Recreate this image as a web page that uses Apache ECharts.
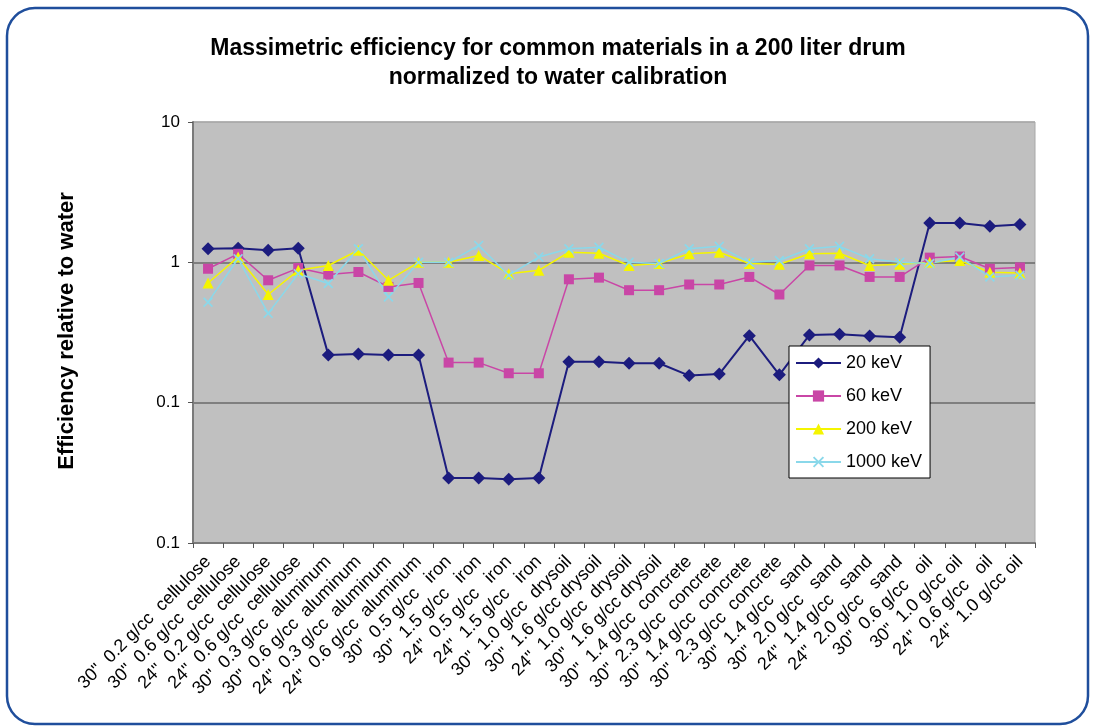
<!DOCTYPE html>
<html>
<head>
<meta charset="utf-8">
<script src="https://cdn.jsdelivr.net/npm/echarts@6/dist/echarts.min.js"></script>
<style>
html,body{margin:0;padding:0;background:#fff;}
#chart{width:1095px;height:727px;}
</style>
</head>
<body>
<div id="chart"></div>
<script>
const categories = [
  '30"  0.2 g/cc  cellulose', '30"  0.6 g/cc  cellulose', '24"  0.2 g/cc  cellulose', '24"  0.6 g/cc  cellulose',
  '30"  0.3 g/cc  aluminum', '30"  0.6 g/cc  aluminum', '24"  0.3 g/cc  aluminum', '24"  0.6 g/cc  aluminum',
  '30"  0.5 g/cc   iron', '30"  1.5 g/cc   iron', '24"  0.5 g/cc   iron', '24"  1.5 g/cc   iron',
  '30"  1.0 g/cc  drysoil', '30"  1.6 g/cc drysoil', '24"  1.0 g/cc  drysoil', '30"  1.6 g/cc drysoil',
  '30"  1.4 g/cc  concrete', '30"  2.3 g/cc  concrete', '30"  1.4 g/cc  concrete', '30"  2.3 g/cc  concrete',
  '30"  1.4 g/cc   sand', '30"  2.0 g/cc   sand', '24"  1.4 g/cc   sand', '24"  2.0 g/cc   sand',
  '30"  0.6 g/cc   oil', '30"  1.0 g/cc oil', '24"  0.6 g/cc   oil', '24"  1.0 g/cc oil'
];
const kev20 = [1.25, 1.26, 1.22, 1.26, 0.219, 0.222, 0.219, 0.219, 0.029, 0.029, 0.0285, 0.029,
  0.196, 0.196, 0.191, 0.191, 0.156, 0.16, 0.30, 0.158, 0.304, 0.307, 0.299, 0.292, 1.91, 1.91, 1.81, 1.86];
const kev60 = [0.90, 1.15, 0.745, 0.91, 0.818, 0.853, 0.668, 0.713, 0.193, 0.193, 0.162, 0.162,
  0.757, 0.778, 0.633, 0.633, 0.695, 0.695, 0.787, 0.59, 0.95, 0.95, 0.787, 0.787, 1.08, 1.10, 0.90, 0.92];
const kev200 = [0.713, 1.09, 0.59, 0.877, 0.95, 1.22, 0.745, 1.0, 1.0, 1.12, 0.83, 0.877,
  1.18, 1.16, 0.95, 0.98, 1.15, 1.18, 0.98, 0.97, 1.15, 1.16, 0.95, 0.97, 1.0, 1.03, 0.85, 0.84];
const kev1000 = [0.52, 1.06, 0.433, 0.83, 0.706, 1.25, 0.567, 1.0, 1.0, 1.32, 0.81, 1.09,
  1.25, 1.28, 1.0, 0.98, 1.25, 1.30, 1.0, 1.03, 1.25, 1.30, 1.06, 1.0, 0.98, 1.09, 0.787, 0.81];
const seriesNames = ['20 keV', '60 keV', '200 keV', '1000 keV'];
const yTickValues = [0.01, 0.1, 1, 10];
const yTickLabels = ['0.1', '0.1', '1', '10'];
const titleText = 'Massimetric efficiency for common materials in a 200 liter drum\nnormalized to water calibration';
const yAxisTitle = 'Efficiency relative to water';

const FONT = '"Liberation Sans", Arial, sans-serif';
const xSymbol = 'path://M0,1.2 L1.2,0 L5,3.8 L8.8,0 L10,1.2 L6.2,5 L10,8.8 L8.8,10 L5,6.2 L1.2,10 L0,8.8 L3.8,5 Z';

const chart = echarts.init(document.getElementById('chart'), null, {renderer: 'canvas'});
chart.setOption({
  animation: false,
  backgroundColor: '#ffffff',
  textStyle: {fontFamily: FONT},
  graphic: [{
    type: 'rect', z: -10,
    shape: {x: 7, y: 8, width: 1081, height: 716, r: 28},
    style: {fill: 'none', stroke: '#1f4e9c', lineWidth: 2.5}
  }, {
    type: 'text', x: 67, y: 331, rotation: Math.PI / 2,
    style: {text: yAxisTitle, font: 'bold 22px ' + FONT, fill: '#000',
      align: 'center', verticalAlign: 'middle', textAlign: 'center', textVerticalAlign: 'middle'}
  }],
  title: {
    text: titleText, left: 553, top: 29, textAlign: 'center',
    textStyle: {fontFamily: FONT, fontSize: 23, fontWeight: 'bold', color: '#000', lineHeight: 29}
  },
  grid: {left: 193, right: 60, top: 122, bottom: 184, show: true, backgroundColor: '#c0c0c0', borderColor: '#a8a8a8', borderWidth: 1},
  legend: {
    orient: 'vertical', left: 789, top: 346,
    backgroundColor: '#ffffff', borderColor: '#000', borderWidth: 1,
    padding: [7, 8, 6, 6], itemGap: 13, itemWidth: 45, itemHeight: 14,
    textStyle: {fontFamily: FONT, fontSize: 18, color: '#000', lineHeight: 20},
    data: seriesNames
  },
  xAxis: {
    type: 'category', data: categories, boundaryGap: true,
    axisLine: {lineStyle: {color: '#7a7a7a', width: 2}},
    axisTick: {show: true, length: 5, lineStyle: {color: '#555'}},
    axisLabel: {rotate: 45, interval: 0, fontFamily: FONT, fontSize: 18, color: '#000', margin: 16}
  },
  yAxis: {
    type: 'log', logBase: 10, min: 0.01, max: 10,
    axisLine: {show: true, lineStyle: {color: '#7a7a7a', width: 2}},
    axisTick: {show: true, length: 5, lineStyle: {color: '#555'}},
    splitLine: {show: true, lineStyle: {color: ['#7a7a7a', '#6a6a6a', '#6a6a6a', '#a8a8a8'], width: 1.5}},
    axisLabel: {
      fontFamily: FONT, fontSize: 17, color: '#000', margin: 13,
      formatter: function (v) {
        for (let i = 0; i < yTickValues.length; i++) {
          if (Math.abs(Math.log10(v) - Math.log10(yTickValues[i])) < 0.01) return yTickLabels[i];
        }
        return '';
      }
    }
  },
  series: [
    {name: seriesNames[0], type: 'line', data: kev20, symbol: 'diamond', symbolSize: 13,
      lineStyle: {color: '#1c1c7e', width: 2}, itemStyle: {color: '#1c1c7e'}},
    {name: seriesNames[1], type: 'line', data: kev60, symbol: 'rect', symbolSize: 10,
      lineStyle: {color: '#c946a6', width: 1.5}, itemStyle: {color: '#c946a6'}},
    {name: seriesNames[2], type: 'line', data: kev200, symbol: 'triangle', symbolSize: 11,
      lineStyle: {color: '#f5f500', width: 1.5}, itemStyle: {color: '#f5f500'}},
    {name: seriesNames[3], type: 'line', data: kev1000, symbol: xSymbol, symbolSize: 10,
      lineStyle: {color: '#8ad8ea', width: 1.5}, itemStyle: {color: '#8ad8ea'}}
  ]
});
</script>
</body>
</html>
